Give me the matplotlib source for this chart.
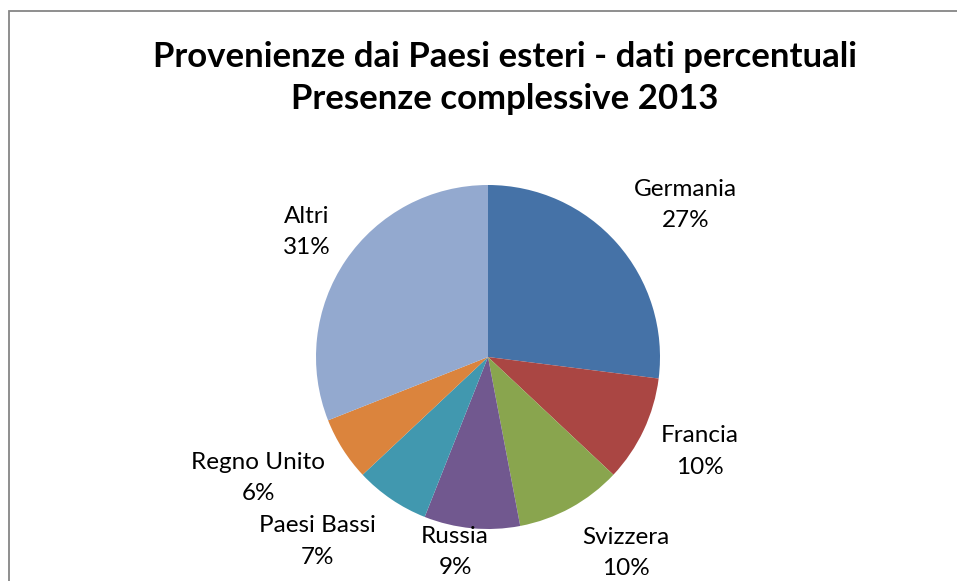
import numpy as np
import matplotlib
matplotlib.use("Agg")
import matplotlib.pyplot as plt
from matplotlib.patches import Rectangle

# ─── DATA ─────────────────────────────────────────────
countries = ["Germania", "Francia", "Svizzera", "Russia",
             "Paesi Bassi", "Regno Unito", "Altri"]
shares = [27, 10, 10, 9, 7, 6, 31]   # percent
colors = ["#4572A7", "#AA4643", "#89A54E", "#71588F",
          "#4198AF", "#DB843D", "#93A9CF"]
title_lines = ["Provenienze dai Paesi esteri - dati percentuali",
               "Presenze complessive 2013"]

# label placement (radius factor, angle offset in degrees) — tuned by eye
label_r = [1.45, 1.35, 1.39, 1.15, 1.46, 1.51, 1.28]
label_dang = [-3.9, 1.2, 6.3, -4.2, -8.5, -4.6, -0.4]
# ──────────────────────────────────────────────────────

W, H = 957, 581
plt.rcParams['font.family'] = ['Lato', 'DejaVu Sans']

fig = plt.figure(figsize=(W / 100, H / 100), dpi=100)
ax = fig.add_axes([0, 0, 1, 1])

# chart frame (left and top edges visible, rest cropped)
ax.add_patch(Rectangle((8.5, -10), W + 20, H - 11 + 10, fill=False,
                       edgecolor="#868686", linewidth=1.3))

cx, cy, R = 488, H - 357, 172
wedges, _ = ax.pie(shares, colors=colors, startangle=90, counterclock=False,
                   center=(cx, cy), radius=R, frame=True,
                   wedgeprops=dict(edgecolor="white", linewidth=0))
ax.set_xlim(0, W)
ax.set_ylim(0, H)
ax.set_aspect('equal')
ax.axis('off')

for w, name, pct, rf, da in zip(wedges, countries, shares, label_r, label_dang):
    mid = np.deg2rad((w.theta1 + w.theta2) / 2 + da)
    x = cx + rf * R * np.cos(mid)
    y = cy + rf * R * np.sin(mid)
    ax.text(x, y, f"{name}\n{pct}%", ha="center", va="center",
            fontsize=17.5, linespacing=1.6, color="#000000")

ax.text(505, H - 78, "\n".join(title_lines), ha="center", va="center",
        fontsize=25, fontweight="bold", linespacing=1.4)

fig.savefig("out.png", dpi=100)
